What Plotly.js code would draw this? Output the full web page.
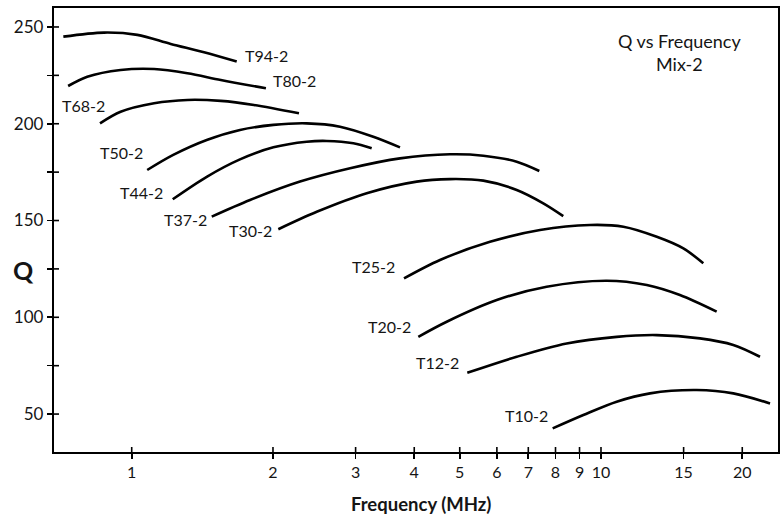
<!DOCTYPE html>
<html>
<head>
<meta charset="utf-8">
<script src="https://cdn.plot.ly/plotly-3.0.1.min.js"></script>
<style>html,body{margin:0;padding:0;background:#fff;}#chart{width:781px;height:517px;}</style>
</head>
<body>
<div id="chart"></div>
<script>
// Core names
const cores = ["T94-2","T80-2","T68-2","T50-2","T44-2","T37-2","T30-2","T25-2","T20-2","T12-2","T10-2"];

// Frequency (MHz) samples along each curve and the matching Q values
const freqT94 = [0.715, 0.873, 1.028, 1.211, 1.426, 1.674];
const qT94    = [245.0, 247.1, 245.9, 241.2, 236.9, 232.1];

const freqT80 = [0.732, 0.804, 0.947, 1.116, 1.314, 1.548, 1.932];
const qT80    = [219.5, 224.3, 227.8, 228.3, 226.1, 222.6, 218.3];

const freqT68 = [0.856, 0.947, 1.116, 1.314, 1.548, 1.822, 2.272];
const qT68    = [200.2, 206.2, 210.6, 212.3, 211.8, 209.7, 205.4];

const freqT50 = [1.079, 1.226, 1.445, 1.701, 2.004, 2.36, 2.779, 3.272, 3.73];
const qT50    = [176.1, 183.9, 191.6, 196.8, 199.4, 200.2, 198.5, 193.3, 187.8];

const freqT44 = [1.223, 1.445, 1.701, 2.004, 2.36, 2.603, 2.967, 3.246];
const qT44    = [161.0, 172.6, 181.6, 187.8, 190.7, 191.1, 189.9, 187.3];

const freqT37 = [1.481, 1.787, 2.284, 2.92, 3.73, 4.768, 5.614, 6.613, 7.389];
const qT37    = [152.0, 160.6, 170.1, 177.0, 182.1, 184.2, 183.5, 180.4, 175.6];

const freqT30 = [2.053, 2.479, 3.168, 4.049, 4.768, 5.614, 6.613, 7.534, 8.31];
const qT30    = [145.5, 154.5, 164.1, 170.1, 171.4, 170.6, 165.8, 158.9, 152.3];

const freqT25 = [3.804, 4.539, 5.8, 7.414, 9.475, 11.16, 13.15, 14.98, 16.52];
const qT25    = [120.1, 129.6, 139.0, 145.1, 147.7, 146.8, 141.6, 135.6, 127.9];

const freqT20 = [4.081, 4.691, 5.996, 7.66, 10.28, 12.52, 14.73, 17.64];
const qT20    = [89.9, 97.7, 108.9, 115.8, 118.9, 116.7, 111.5, 102.9];

const freqT12 = [5.189, 6.613, 8.451, 10.8, 13.15, 16.25, 19.14, 21.82];
const qT12    = [71.3, 79.6, 86.5, 89.9, 90.8, 89.1, 85.7, 79.6];

const freqT10 = [7.89, 9.17, 10.8, 12.72, 15.99, 19.14, 22.92];
const qT10    = [42.6, 49.5, 56.4, 60.7, 62.4, 60.7, 55.5];

// Curve label anchor points (frequency, Q)
const labelFreq = [1.94, 2.228, 0.789, 0.952, 1.05, 1.299, 1.787, 3.272, 3.549, 4.494, 6.944];
const labelQ    = [235.5, 222.1, 209.2, 185.1, 164.6, 150.3, 144.6, 126.1, 95.5, 76.9, 49.5];

// Axis ticks
const xTickVals = [1, 2, 3, 4, 5, 6, 7, 8, 9, 10, 15, 20];
const xTickText = ["1","2","3","4","5","6","7","8","9","10","15","20"];
const yTickVals = [50, 75, 100, 125, 150, 175, 200, 225, 250];
const yTickText = ["50","","100","","150","","200","","250"];

const allFreq = [freqT94, freqT80, freqT68, freqT50, freqT44, freqT37, freqT30, freqT25, freqT20, freqT12, freqT10];
const allQ    = [qT94, qT80, qT68, qT50, qT44, qT37, qT30, qT25, qT20, qT12, qT10];

const FONT = "Lato, 'Open Sans', sans-serif";
const INK = "#151515";

const xRange = [-0.1656, 1.3772];
const yRange = [30.4, 259.8];

const L = 54, R = 3, T = 8, B = 65, W = 781, H = 517;
const pw = W - L - R, ph = H - T - B;
const px2paperX = px => (px - L) / pw;
const px2paperY = py => (H - py - B) / ph;

const traces = cores.map((name, i) => ({
  type: "scatter",
  mode: "lines",
  name: name,
  x: allFreq[i],
  y: allQ[i],
  line: {color: "#000", width: 2.6, shape: "spline", smoothing: 0.9},
  hoverinfo: "skip"
}));

// inner halves of the crossing tick marks (outer halves come from the axes),
// placed through the axis scales: 5 px expressed in axis units
const tickIn = 5;
const yBase = yRange[0], yTip = yRange[0] + (yRange[1] - yRange[0]) * tickIn / ph;
const xBase = Math.pow(10, xRange[0]);
const xTip = Math.pow(10, xRange[0] + (xRange[1] - xRange[0]) * tickIn / pw);
const innerX = [], innerY = [];
xTickVals.forEach(v => { innerX.push(v, v, null); innerY.push(yBase, yTip, null); });
yTickVals.forEach(v => { innerX.push(xBase, xTip, null); innerY.push(v, v, null); });
traces.push({
  type: "scatter", mode: "lines", x: innerX, y: innerY, connectgaps: false,
  line: {color: "#000", width: 1.6}, hoverinfo: "skip", showlegend: false, cliponaxis: false
});

const annotations = cores.map((name, i) => ({
  x: Math.log10(labelFreq[i]),
  y: labelQ[i],
  xref: "x", yref: "y",
  text: name,
  showarrow: false,
  font: {family: FONT, size: 16, color: INK},
  xanchor: "center", yanchor: "middle"
}));
annotations.push({
  x: px2paperX(679), y: px2paperY(53), xref: "paper", yref: "paper",
  text: "Q vs Frequency<br>Mix-2",
  showarrow: false, font: {family: FONT, size: 18, color: INK}, align: "center",
  xanchor: "center", yanchor: "middle"
});
annotations.push({
  x: px2paperX(23), y: px2paperY(270), xref: "paper", yref: "paper",
  text: "<b>Q</b>", showarrow: false,
  font: {family: FONT, size: 25, color: INK},
  xanchor: "center", yanchor: "middle"
});
annotations.push({
  x: px2paperX(421), y: px2paperY(504), xref: "paper", yref: "paper",
  text: "<b>Frequency (MHz)</b>", showarrow: false,
  font: {family: FONT, size: 18.5, color: INK},
  xanchor: "center", yanchor: "middle"
});

const layout = {
  width: W, height: H,
  margin: {l: L, r: R, t: T, b: B},
  paper_bgcolor: "#fff",
  plot_bgcolor: "#fff",
  showlegend: false,
  font: {family: FONT, color: INK},
  xaxis: {
    type: "log", range: xRange, autorange: false,
    tickmode: "array", tickvals: xTickVals, ticktext: xTickText,
    ticks: "outside", ticklen: 5, tickwidth: 1.6, tickcolor: "#000",
    showgrid: false, zeroline: false,
    showline: true, linecolor: "#000", linewidth: 2.2, mirror: true,
    tickfont: {family: FONT, size: 16, color: INK}
  },
  yaxis: {
    range: yRange, autorange: false,
    tickmode: "array", tickvals: yTickVals, ticktext: yTickText,
    ticks: "outside", ticklen: 5, tickwidth: 1.6, tickcolor: "#000",
    showgrid: false, zeroline: false,
    showline: true, linecolor: "#000", linewidth: 2.2, mirror: true,
    tickfont: {family: FONT, size: 17, color: INK}
  },
  annotations: annotations
};

Plotly.newPlot("chart", traces, layout, {staticPlot: true, displayModeBar: false});
</script>
</body>
</html>
